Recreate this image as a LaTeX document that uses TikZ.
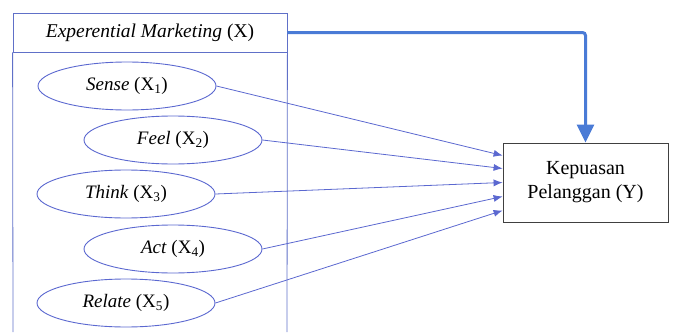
\documentclass[tikz,border=0pt]{standalone}
\usepackage{xcolor}
\usepackage{fontspec}
\setmainfont{Liberation Serif}
\usetikzlibrary{shapes.geometric,arrows.meta}

\definecolor{framecol}{HTML}{6070C8}
\definecolor{linecol}{HTML}{5B68D0}
\definecolor{thickcol}{HTML}{4A7BD6}

\begin{document}
\begin{tikzpicture}[x=1pt,y=-1pt]
\tikzstyle{every node}+=[inner sep=0pt]
\tikzstyle{dim}=[draw=linecol, line width=0.9pt, ellipse, minimum width=178pt, minimum height=48pt, font=\fontsize{19}{22}\selectfont]
\tikzstyle{link}=[draw=linecol, line width=0.8pt, -{Latex[length=9pt,width=7pt]}]
\useasboundingbox (0,0) rectangle (688,332);
\node [draw=framecol, line width=0.8pt, minimum width=274pt, minimum height=39pt, font=\fontsize{19.5}{22}\selectfont] (X) at (150,32.5) {\textit{Experential Marketing} (X)};
\draw [framecol, line width=0.8pt] (X.south west) -- (13,332);
\draw [framecol, line width=0.8pt] (X.south east) -- (287,332);
\node [dim] (x1) at (127,86) {\textit{Sense} (X\textsubscript{1})};
\node [dim] (x2) at (173,140) {\textit{Feel} (X\textsubscript{2})};
\node [dim] (x3) at (126,194) {\textit{Think} (X\textsubscript{3})};
\node [dim] (x4) at (173,249) {\textit{Act} (X\textsubscript{4})};
\node [dim] (x5) at (126,303) {\textit{Relate} (X\textsubscript{5})};
\node [draw=black!75, line width=0.8pt, minimum width=165pt, minimum height=79pt, align=center, font=\fontsize{20}{24}\selectfont] (Y) at (585.5,182.5) {Kepuasan\\Pelanggan (Y)};
\draw [link] (x1.east) -- ([yshift=27pt]Y.west);
\draw [link] (x2.east) -- ([yshift=14pt]Y.west);
\draw [link] (x3.east) -- (Y.west);
\draw [link] (x4.east) -- ([yshift=-14pt]Y.west);
\draw [link] (x5.east) -- ([yshift=-28pt]Y.west);
\draw [thickcol, line width=3pt, rounded corners=3pt, -{Triangle[length=18pt,width=17pt]}] (X.east) -| (Y.north);
\end{tikzpicture}
\end{document}
